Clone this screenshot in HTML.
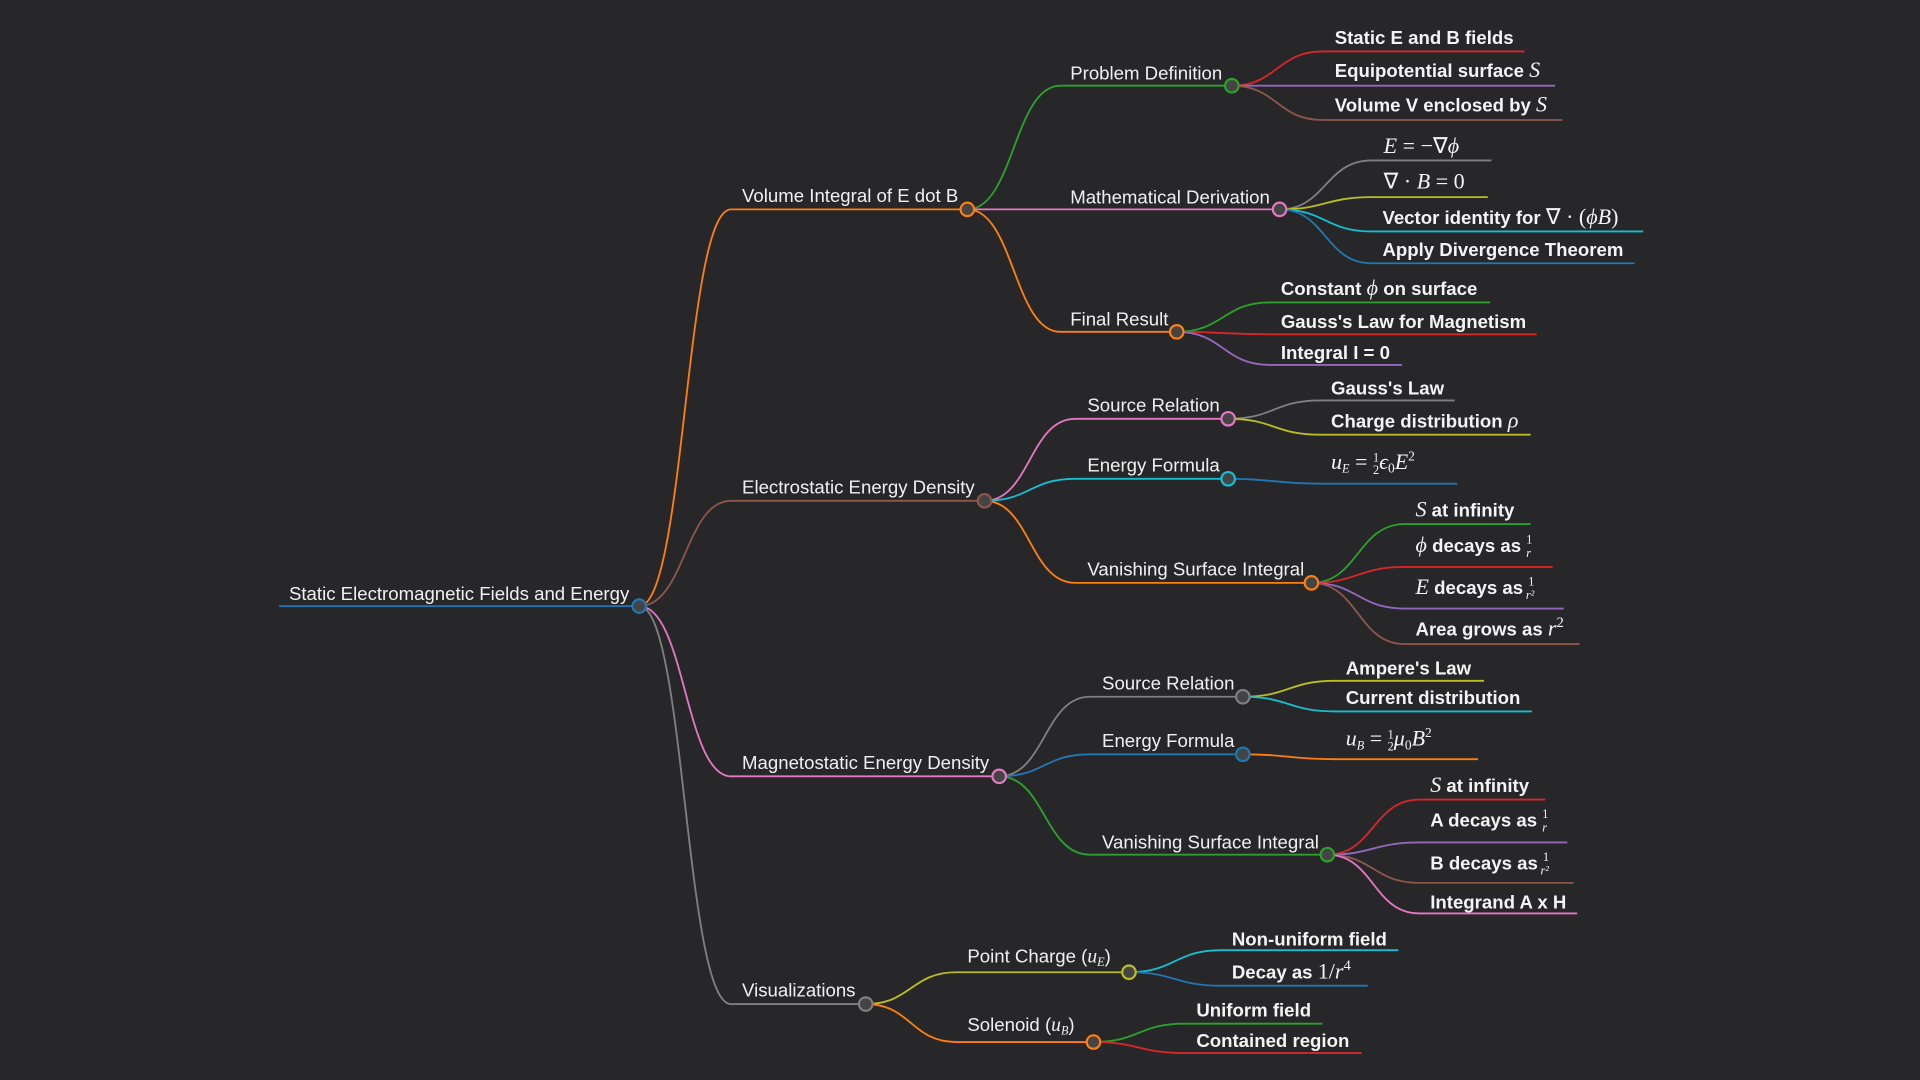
<!DOCTYPE html>
<html><head><meta charset="utf-8"><style>
html,body{margin:0;padding:0;background:#27272a;width:1920px;height:1080px;overflow:hidden}
svg{display:block}
.t{font-family:"Liberation Sans",sans-serif;font-size:15.2px;fill:#f0f0f0}
.l{font-family:"Liberation Sans",sans-serif;font-size:15.2px;font-weight:bold;fill:#f4f4f4}
.m{font-family:"Liberation Serif",serif;font-style:italic;font-weight:normal;font-size:18px}
.r{font-family:"Liberation Serif",serif;font-style:normal;font-weight:normal;font-size:18px}
.f{font-family:"Liberation Serif",serif;font-style:italic;font-weight:normal;font-size:10px}
path{fill:none;stroke-width:1.5}
circle{fill:#444;stroke-width:1.8}
</style></head><body>
<svg width="1920" height="1080" viewBox="0 0 1568 882" xmlns="http://www.w3.org/2000/svg">
<g id="edges"></g>
<g id="nodes"></g>
<text class="t" x="236" y="490">Static Electromagnetic Fields and Energy</text>
<text class="t" x="606" y="165">Volume Integral of E dot B</text>
<text class="t" x="606" y="403">Electrostatic Energy Density</text>
<text class="t" x="606" y="628">Magnetostatic Energy Density</text>
<text class="t" x="606" y="814">Visualizations</text>

<text class="t" x="874" y="65">Problem Definition</text>
<text class="t" x="874" y="166">Mathematical Derivation</text>
<text class="t" x="874" y="266">Final Result</text>
<text class="t" x="888" y="336">Source Relation</text>
<text class="t" x="888" y="385">Energy Formula</text>
<text class="t" x="888" y="470">Vanishing Surface Integral</text>
<text class="t" x="900" y="563">Source Relation</text>
<text class="t" x="900" y="610">Energy Formula</text>
<text class="t" x="900" y="693">Vanishing Surface Integral</text>
<text class="t" x="790" y="786">Point Charge (<tspan class="m" style="font-size:16px">u</tspan><tspan class="f" dy="3">E</tspan><tspan dy="-3">)</tspan></text>
<text class="t" x="790" y="842">Solenoid (<tspan class="m" style="font-size:16px">u</tspan><tspan class="f" dy="3">B</tspan><tspan dy="-3">)</tspan></text>

<text class="l" x="1090" y="36">Static E and B fields</text>
<text class="l" x="1090" y="63">Equipotential surface <tspan class="m">S</tspan></text>
<text class="l" x="1090" y="91">Volume V enclosed by <tspan class="m">S</tspan></text>
<text class="l" x="1130" y="125"><tspan class="m">E</tspan><tspan class="r"> = −∇</tspan><tspan class="m">ϕ</tspan></text>
<text class="l" x="1130" y="154"><tspan class="r">∇ · </tspan><tspan class="m">B</tspan><tspan class="r"> = 0</tspan></text>
<text class="l" x="1129" y="183">Vector identity for <tspan class="r">∇ · (</tspan><tspan class="m">ϕB</tspan><tspan class="r">)</tspan></text>
<text class="l" x="1129" y="209">Apply Divergence Theorem</text>
<text class="l" x="1046" y="241">Constant <tspan class="m">ϕ</tspan> on surface</text>
<text class="l" x="1046" y="268">Gauss's Law for Magnetism</text>
<text class="l" x="1046" y="293">Integral I = 0</text>

<text class="l" x="1087" y="322">Gauss's Law</text>
<text class="l" x="1087" y="349">Charge distribution <tspan class="m">ρ</tspan></text>
<text class="l" x="1087" y="383"><tspan class="m">u</tspan><tspan class="f" dy="3">E</tspan><tspan class="r" dy="-3"> = </tspan><tspan class="r" style="font-size:10px" dy="-6">1</tspan><tspan class="r" style="font-size:10px" dx="-5" dy="10">2</tspan><tspan class="m" dy="-4">ϵ</tspan><tspan class="r" style="font-size:11px" dy="3">0</tspan><tspan class="m" dy="-3">E</tspan><tspan class="r" style="font-size:11px" dy="-7">2</tspan></text>
<text class="l" x="1156" y="422"><tspan class="m">S</tspan> at infinity</text>
<text class="l" x="1156" y="451"><tspan class="m">ϕ</tspan> decays as <tspan class="r" style="font-size:10px" dy="-7">1</tspan><tspan class="f" dx="-5" dy="11">r</tspan></text>
<text class="l" x="1156" y="485"><tspan class="m">E</tspan> decays as <tspan class="r" style="font-size:10px" dy="-7">1</tspan><tspan class="f" dx="-7" dy="11">r²</tspan></text>
<text class="l" x="1156" y="519">Area grows as <tspan class="m">r</tspan><tspan class="r" style="font-size:12px" dy="-7">2</tspan></text>

<text class="l" x="1099" y="551">Ampere's Law</text>
<text class="l" x="1099" y="575">Current distribution</text>
<text class="l" x="1099" y="609"><tspan class="m">u</tspan><tspan class="f" dy="3">B</tspan><tspan class="r" dy="-3"> = </tspan><tspan class="r" style="font-size:10px" dy="-6">1</tspan><tspan class="r" style="font-size:10px" dx="-5" dy="10">2</tspan><tspan class="m" dy="-4">μ</tspan><tspan class="r" style="font-size:11px" dy="3">0</tspan><tspan class="m" dy="-3">B</tspan><tspan class="r" style="font-size:11px" dy="-7">2</tspan></text>
<text class="l" x="1168" y="647"><tspan class="m">S</tspan> at infinity</text>
<text class="l" x="1168" y="675">A decays as <tspan class="r" style="font-size:10px" dy="-7">1</tspan><tspan class="f" dx="-5" dy="11">r</tspan></text>
<text class="l" x="1168" y="710">B decays as <tspan class="r" style="font-size:10px" dy="-7">1</tspan><tspan class="f" dx="-7" dy="11">r²</tspan></text>
<text class="l" x="1168" y="742">Integrand A x H</text>

<text class="l" x="1006" y="772">Non-uniform field</text>
<text class="l" x="1006" y="799">Decay as <tspan class="r">1/</tspan><tspan class="m">r</tspan><tspan class="r" style="font-size:12px" dy="-7">4</tspan></text>
<text class="l" x="977" y="830">Uniform field</text>
<text class="l" x="977" y="855">Contained region</text>
</svg>
<script>
var C={o:"#ff7f0e",br:"#8c564b",pk:"#e377c2",g:"#7f7f7f",y:"#bcbd22",c:"#17becf",b:"#1f77b4",gr:"#2ca02c",r:"#d62728",p:"#9467bd"};
var E=[],N=[];
function node(x,y,col,kids){N.push([x,y,col]);kids.forEach(function(k){var sx=k[0],ex=k[1],y2=k[2],cl=C[k[3]];
var mx=(x+sx)/2;E.push('<path stroke="'+cl+'" d="M'+x+' '+y+' C'+mx+' '+y+' '+mx+' '+y2+' '+sx+' '+y2+' L'+ex+' '+y2+'"/>');if(k[4])node(ex,y2,cl,k[4]);});}
E.push('<path stroke="'+C.b+'" stroke-width="2.5" d="M228 495 L522 495"/>');
node(522,495,C.b,[
[597,790,171,"o",[[866,1006,70,"gr",[[1080,1245,42,"r"],[1080,1270,70,"p"],[1080,1276,98,"br"]]],[866,1045,171,"pk",[[1120,1218,131,"g"],[1120,1215,161,"y"],[1120,1342,189,"c"],[1120,1335,215,"b"]]],[866,961,271,"o",[[1037,1217,247,"gr"],[1037,1255,273,"r"],[1037,1145,298,"p"]]]]],
[597,804,409,"br",[[878,1003,342,"pk",[[1078,1188,327,"g"],[1078,1250,355,"y"]]],[878,1003,391,"c",[[1078,1190,395,"b"]]],[878,1071,476,"o",[[1147,1250,428,"gr"],[1147,1268,463,"r"],[1147,1277,497,"p"],[1147,1290,526,"br"]]]]],
[597,816,634,"pk",[[890,1015,569,"g",[[1090,1212,556,"y"],[1090,1251,581,"c"]]],[890,1015,616,"b",[[1090,1207,620,"o"]]],[890,1084,698,"gr",[[1159,1262,653,"r"],[1159,1280,688,"p"],[1159,1285,721,"br"],[1159,1288,746,"pk"]]]]],
[597,707,820,"g",[[781,922,794,"y",[[997,1142,776,"c"],[997,1117,805,"b"]]],[781,893,851,"o",[[967,1080,836,"gr"],[967,1112,860,"r"]]]]]
]);
document.getElementById("edges").innerHTML=E.join("");
document.getElementById("nodes").innerHTML=N.map(function(n){return '<circle cx="'+n[0]+'" cy="'+n[1]+'" r="5.5" stroke="'+n[2]+'"/>'}).join("");
</script>
</body></html>
